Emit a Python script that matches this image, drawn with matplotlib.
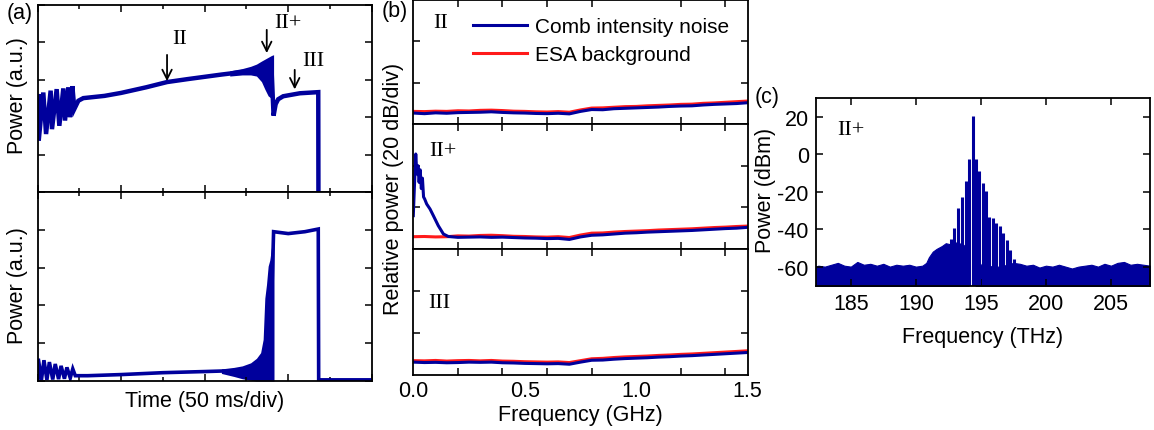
# Comb power traces (a), intensity noise (b) and optical spectrum (c)
import matplotlib.pyplot as plt
from matplotlib.ticker import FixedLocator, MultipleLocator

# --------------------------------------------------- data
# (a) top: power vs time (div), thin line part
a_top_t = [0.000, 0.007, 0.012, 0.067, 0.100, 0.155, 0.171, 0.227, 0.259, 0.307,
           0.327, 0.367, 0.387, 0.415, 0.439, 0.487, 0.546, 0.80, 1.00, 1.30,
           1.55, 1.80, 2.00, 2.20, 2.42, 2.60, 2.80, 2.825, 2.85, 2.88,
           2.94, 3.14, 3.36, 3.362]
a_top_p = [2.45, 2.62, 1.37, 2.66, 1.55, 2.71, 1.68, 2.75, 1.77, 2.77,
           1.91, 2.80, 2.00, 2.83, 2.22, 2.44, 2.51, 2.57, 2.65, 2.80,
           2.94, 3.02, 3.08, 3.14, 3.20, 3.26, 3.30, 2.04, 2.35, 2.48,
           2.56, 2.64, 2.67, 0.00]
# (a) top: noisy band before the II+ jump
a_top_band_t = [2.30, 2.45, 2.55, 2.62, 2.68, 2.72, 2.76, 2.80, 2.825]
a_top_band_lo = [3.10, 3.13, 3.13, 3.10, 2.95, 2.75, 2.57, 2.50, 2.45]
a_top_band_hi = [3.24, 3.30, 3.36, 3.42, 3.50, 3.55, 3.60, 3.65, 3.67]

# (a) bottom
a_bot_t = [0.000, 0.007, 0.045, 0.075, 0.110, 0.140, 0.180, 0.210, 0.250, 0.280,
           0.320, 0.350, 0.390, 0.420, 0.450, 0.60, 1.00, 1.50, 2.00, 2.30,
           2.50, 2.70, 2.80, 2.825, 3.00, 3.20, 3.36, 3.365, 4.00]
a_bot_p = [0.05, 0.59, 0.03, 0.55, 0.03, 0.50, 0.04, 0.45, 0.05, 0.40,
           0.06, 0.36, 0.08, 0.32, 0.14, 0.14, 0.17, 0.22, 0.25, 0.27,
           0.28, 0.40, 2.00, 3.95, 3.90, 3.95, 4.02, 0.03, 0.03]
a_bot_band_t = [2.20, 2.35, 2.45, 2.55, 2.62, 2.67, 2.70, 2.72, 2.74, 2.76, 2.78, 2.80, 2.83]
a_bot_band_lo = [0.20, 0.12, 0.06, 0.02, 0.0, 0.0, 0.0, 0.0, 0.0, 0.0, 0.0, 0.0, 0.0]
a_bot_band_hi = [0.32, 0.36, 0.40, 0.48, 0.60, 0.75, 1.10, 2.19, 2.55, 3.04, 3.20, 3.53, 3.97]

# (b) relative power (dB) vs frequency (GHz)
b_freq = [0.00, 0.05, 0.10, 0.15, 0.20, 0.25, 0.30, 0.35, 0.40, 0.45, 0.50,
          0.55, 0.60, 0.65, 0.70, 0.75, 0.80, 0.85, 0.90, 0.95, 1.00,
          1.05, 1.10, 1.15, 1.20, 1.25, 1.30, 1.35, 1.40, 1.45, 1.50]
b_II_comb = [5.3, 5.0, 5.4, 5.2, 5.5, 5.6, 5.7, 5.9, 5.6, 5.4, 5.3,
             5.1, 5.0, 5.2, 4.9, 6.1, 7.0, 6.9, 7.4, 7.6, 7.8,
             8.0, 8.2, 8.5, 8.7, 8.8, 9.2, 9.5, 9.7, 9.9, 10.3]
b_II_esa = [6.1, 6.0, 6.2, 6.1, 6.4, 6.3, 6.6, 6.7, 6.5, 6.2, 6.1,
            5.9, 5.8, 6.0, 5.7, 6.8, 7.7, 7.8, 8.1, 8.4, 8.5,
            8.8, 9.0, 9.2, 9.5, 9.6, 10.0, 10.2, 10.5, 10.8, 11.1]
b_IIp_freq = [0.000, 0.005, 0.011, 0.016, 0.021, 0.026, 0.031, 0.036, 0.041, 0.046,
              0.051, 0.060, 0.075, 0.090, 0.112, 0.135, 0.157, 0.20, 0.25, 0.30,
              0.35, 0.40, 0.45, 0.50, 0.55, 0.60, 0.65, 0.70, 0.75, 0.80,
              0.85, 0.90, 0.95, 1.00, 1.05, 1.10, 1.15, 1.20, 1.25, 1.30,
              1.35, 1.40, 1.45, 1.50]
b_IIp_comb = [16.0, 30.0, 45.6, 36.0, 40.0, 32.0, 38.0, 29.0, 34.0, 25.0,
              24.0, 21.6, 19.2, 16.0, 11.2, 7.2, 6.0, 5.6, 5.7, 5.8,
              5.6, 5.7, 5.5, 5.3, 5.2, 5.0, 5.1, 4.6, 5.8, 6.6,
              6.8, 7.2, 7.6, 7.8, 8.1, 8.3, 8.5, 8.7, 8.9, 9.2,
              9.5, 9.8, 10.0, 10.4]
b_IIp_esa = [5.9, 6.0, 5.8, 5.9, 6.3, 6.2, 6.5, 6.6, 6.4, 6.1, 6.0,
             5.8, 5.7, 5.9, 5.5, 6.7, 7.6, 7.7, 8.1, 8.4, 8.6,
             8.8, 9.1, 9.3, 9.5, 9.7, 10.0, 10.3, 10.5, 10.8, 11.0]
b_III_comb = [6.0, 5.8, 5.9, 5.7, 5.8, 6.0, 5.9, 6.0, 5.7, 5.6, 5.4,
              5.3, 5.2, 5.3, 5.0, 6.0, 6.9, 7.0, 7.4, 7.7, 7.9,
              8.1, 8.4, 8.6, 8.9, 9.1, 9.4, 9.7, 10.0, 10.3, 10.6]
b_III_esa = [6.7, 6.6, 6.8, 6.5, 6.7, 6.8, 6.6, 6.8, 6.5, 6.4, 6.2,
             6.1, 6.0, 6.1, 5.8, 6.7, 7.6, 7.8, 8.2, 8.5, 8.7,
             8.9, 9.2, 9.4, 9.7, 9.9, 10.2, 10.5, 10.8, 11.1, 11.4]

# (c) optical spectrum: comb lines and noise floor
c_comb_freq = [192.68, 192.94, 193.22, 193.56, 193.86, 194.12, 194.38, 194.63, 194.89,
               195.15, 195.38, 195.65, 195.92, 196.19, 196.46, 196.73, 197.00, 197.27, 197.54]
c_comb_power = [-45.0, -39.2, -28.5, -23.1, -14.2, -2.3, 20.5, -2.6, -8.9,
                -15.1, -19.6, -33.5, -34.0, -36.5, -38.5, -42.0, -46.0, -51.0, -56.0]
c_floor_freq = [182.3, 182.5, 183.0, 183.5, 184.0, 184.5, 185.0, 185.5, 186.0, 186.5,
                187.0, 187.5, 188.0, 188.5, 189.0, 189.5, 190.0, 190.5, 190.8, 191.0,
                191.3, 191.6, 192.0, 192.3, 192.6, 193.0, 193.3, 193.6, 193.9, 194.02,
                194.06, 194.60, 194.66, 194.8, 195.0, 195.5, 196.0, 196.5, 197.0, 197.5,
                198.0, 198.5, 199.0, 199.5, 200.0, 200.5, 201.0, 201.5, 202.0, 202.5,
                203.0, 203.5, 204.0, 204.5, 205.0, 205.5, 206.0, 206.5, 207.0, 207.5, 208.0]
c_floor_power = [-60.0, -59.5, -60.0, -59.0, -58.0, -59.5, -60.0, -57.5, -59.0, -58.5,
                 -59.5, -58.5, -60.0, -59.0, -59.5, -59.0, -60.0, -59.5, -58.0, -55.0,
                 -52.0, -50.5, -49.0, -47.5, -48.0, -47.0, -47.5, -48.0, -50.0, -52.0,
                 -75.0, -75.0, -52.0, -57.0, -59.0, -59.5, -60.0, -60.0, -59.0, -58.0,
                 -58.5, -59.5, -59.0, -60.5, -59.5, -60.0, -59.0, -60.0, -61.0, -60.0,
                 -59.5, -59.0, -60.0, -58.5, -59.5, -58.0, -57.5, -59.0, -58.5, -59.0, -59.5]

# --------------------------------------------------- style
plt.rcParams['font.family'] = ['Liberation Sans', 'DejaVu Sans']
plt.rcParams['axes.unicode_minus'] = False
plt.rcParams['axes.linewidth'] = 1.3
SERIF = ['Liberation Serif', 'DejaVu Serif']
BLUE = '#00009c'
RED = '#ff1a1a'
FS = 15.5
FSR = 16   # roman numeral labels

W, H = 1154, 431
fig = plt.figure(figsize=(W / 100, H / 100), dpi=100)


def box(x0, y0, x1, y1):
    # pixel box -> figure rect
    return [x0 / W, 1 - y1 / H, (x1 - x0) / W, (y1 - y0) / H]


def ftext(x, y, s, **kw):
    fig.text(x / W, 1 - y / H, s, ha='center', va='center', **kw)


def frame_ticks(ax):
    ax.tick_params(which='both', direction='in', top=True, right=True, width=1.1)
    ax.tick_params(which='major', length=5)
    ax.tick_params(which='minor', length=3)


# --------------------------------------------------- (a)
ax_at = fig.add_axes(box(37.7, 6, 371.7, 193))
ax_ab = fig.add_axes(box(37.7, 193, 371.7, 382))
for ax in (ax_at, ax_ab):
    ax.set_xlim(0, 4)
    ax.set_ylim(0, 5)
    ax.xaxis.set_major_locator(MultipleLocator(1))
    ax.xaxis.set_minor_locator(MultipleLocator(0.5))
    ax.yaxis.set_major_locator(MultipleLocator(1))
    ax.set_xticklabels([])
    ax.set_yticklabels([])
    frame_ticks(ax)

ax_at.fill_between(a_top_band_t, a_top_band_lo, a_top_band_hi, color=BLUE, lw=0)
ax_at.plot(a_top_t, a_top_p, color=BLUE, lw=3.2, solid_joinstyle='miter')
ax_ab.fill_between(a_bot_band_t, a_bot_band_lo, a_bot_band_hi, color=BLUE, lw=0)
ax_ab.plot(a_bot_t, a_bot_p, color=BLUE, lw=2.6, solid_joinstyle='miter')

arrow = dict(arrowstyle='->', color='black', lw=1.3, mutation_scale=17)
ax_at.annotate('', xy=(1.549, 2.89), xytext=(1.549, 3.74), arrowprops=arrow)
ax_at.annotate('', xy=(2.743, 3.64), xytext=(2.743, 4.41), arrowprops=arrow)
ax_at.annotate('', xy=(3.078, 2.67), xytext=(3.078, 3.34), arrowprops=arrow)
ftext(180, 40, 'II', family=SERIF, fontsize=FSR)
ftext(288, 24, 'II+', family=SERIF, fontsize=FSR)
ftext(313, 62, 'III', family=SERIF, fontsize=FSR)

ftext(20, 13, '(a)', fontsize=FS)
ftext(18, 96, 'Power (a.u.)', fontsize=FS, rotation=90)
ftext(18, 286, 'Power (a.u.)', fontsize=FS, rotation=90)
ftext(205, 402, 'Time (50 ms/div)', fontsize=FS)

# --------------------------------------------------- (b)
b_rows = [(1, 125), (125, 250), (250, 375.7)]
b_axes = [fig.add_axes(box(413.3, y0, 747.7, y1)) for y0, y1 in b_rows]
b_data = [(b_freq, b_II_comb, b_freq, b_II_esa),
          (b_IIp_freq, b_IIp_comb, b_freq, b_IIp_esa),
          (b_freq, b_III_comb, b_freq, b_III_esa)]
for ax, (fc, comb, fe, esa) in zip(b_axes, b_data):
    ax.plot(fe, esa, color=RED, lw=2.2)
    ax.plot(fc, comb, color=BLUE, lw=2.2)
    ax.set_xlim(0, 1.5)
    ax.set_ylim(0, 60)
    ax.set_xticks([0.0, 0.5, 1.0, 1.5])
    ax.xaxis.set_minor_locator(FixedLocator([0.2, 0.4, 0.6, 0.8, 1.0, 1.2, 1.4]))
    ax.yaxis.set_major_locator(FixedLocator([20, 40]))
    ax.set_yticklabels([])
    ax.tick_params(which='both', direction='in', top=True, right=True, width=1.1)
    ax.tick_params(which='major', axis='x', length=0, pad=4, labelsize=FS)
    ax.tick_params(which='major', axis='y', length=5)
    ax.tick_params(which='minor', length=5)
for ax in b_axes[:2]:
    ax.set_xticklabels([])
b_axes[2].set_xticklabels(['0.0', '0.5', '1.0', '1.5'])

ftext(441, 24, 'II', family=SERIF, fontsize=FSR)
ftext(443, 152, 'II+', family=SERIF, fontsize=FSR)
ftext(439, 304, 'III', family=SERIF, fontsize=FSR)

leg = b_axes[0].legend(
    b_axes[0].lines[::-1], ['Comb intensity noise', 'ESA background'],
    loc='upper left', bbox_to_anchor=((457 - 413.3) / 334.4, 0.99), frameon=False,
    fontsize=15, handlelength=2.6, handletextpad=0.4, labelspacing=0.45, borderaxespad=0.35)

ftext(395, 11, '(b)', fontsize=FS)
ftext(394, 189, 'Relative power (20 dB/div)', fontsize=FS, rotation=90)
ftext(580, 416, 'Frequency (GHz)', fontsize=FS)

# --------------------------------------------------- (c)
ax_c = fig.add_axes(box(815.7, 99, 1150, 287.3))
ax_c.fill_between(c_floor_freq, -75, c_floor_power, color=BLUE, lw=0.8, edgecolor=BLUE)
ax_c.vlines(c_comb_freq, -75, c_comb_power, color=BLUE, lw=2.2)
ax_c.set_xlim(182.3, 208)
ax_c.set_ylim(-70.5, 30)
ax_c.set_xticks([185, 190, 195, 200, 205])
ax_c.set_yticks([-60, -40, -20, 0, 20])
frame_ticks(ax_c)
ax_c.tick_params(labelsize=FS, pad=5)

ftext(851, 131, 'II+', family=SERIF, fontsize=FSR)
ftext(767, 98, '(c)', fontsize=FS)
ftext(766, 190, 'Power (dBm)', fontsize=FS, rotation=90)
ftext(983, 338, 'Frequency (THz)', fontsize=FS)

fig.savefig('out.png', dpi=100)
